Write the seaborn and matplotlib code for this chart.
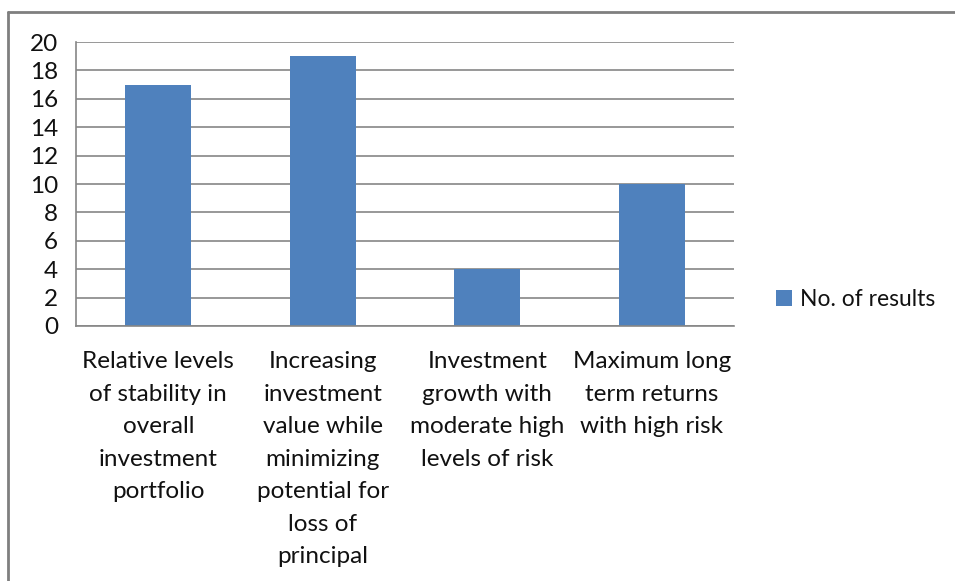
import matplotlib
matplotlib.use("Agg")
import matplotlib.pyplot as plt
import seaborn as sns
import pandas as pd
from matplotlib.lines import Line2D

categories = [
    "Relative levels\nof stability in\noverall\ninvestment\nportfolio",
    "Increasing\ninvestment\nvalue while\nminimizing\npotential for\nloss of\nprincipal",
    "Investment\ngrowth with\nmoderate high\nlevels of risk",
    "Maximum long\nterm returns\nwith high risk",
]
results = [17, 19, 4, 10]
y_ticks = list(range(0, 21, 2))

sns.set_style("white")
plt.rcParams["font.family"] = ["Lato", "DejaVu Sans"]

plot_data = pd.DataFrame({"Category": categories, "No. of results": results})

fig = plt.figure(figsize=(9.55, 5.81), dpi=100)
ax = fig.add_axes([0.0796, 0.4389, 0.6890, 0.4888])

sns.barplot(data=plot_data, x="Category", y="No. of results", color="#4F81BD",
            width=0.4, label="No. of results", ax=ax, saturation=1,
            linewidth=0)

grid_col = "#868686"
txt_col = "#111111"
fs = 17.5
ax.set_ylim(0, 20)
ax.set_xlim(-0.5, 3.5)
ax.set_yticks(y_ticks)
ax.yaxis.grid(True, color=grid_col, linewidth=1.2)
ax.set_axisbelow(True)
for side in ["top", "right"]:
    ax.spines[side].set_visible(False)
for side in ["left", "bottom"]:
    ax.spines[side].set_color(grid_col)
    ax.spines[side].set_linewidth(1.2)

ax.tick_params(axis="y", length=7, color=grid_col, width=1.2, labelsize=fs,
               labelcolor=txt_col, pad=6)
ax.tick_params(axis="x", which="major", length=0, labelsize=fs,
               labelcolor=txt_col, pad=18)
ax.set_xticks([-0.5, 0.5, 1.5, 2.5, 3.5], minor=True)
ax.tick_params(axis="x", which="minor", length=7, color=grid_col, width=1.2,
               direction="out")
for lbl in ax.get_xticklabels():
    lbl.set_linespacing(1.68)
ax.set_xlabel("")
ax.set_ylabel("")

ax.legend(loc="center left", bbox_to_anchor=(0.8126, 0.485),
          bbox_transform=fig.transFigure, frameon=False, fontsize=16.5,
          borderpad=0, borderaxespad=0,
          handlelength=0.7, handleheight=0.7, handletextpad=0.35,
          labelcolor=txt_col)

# chart border (top and left edge visible)
fig.add_artist(Line2D([0.0084, 1.0], [0.979, 0.979], color="#7F7F7F",
                      linewidth=2, transform=fig.transFigure))
fig.add_artist(Line2D([0.0084, 0.0084], [0.0, 0.979], color="#7F7F7F",
                      linewidth=2, transform=fig.transFigure))

fig.savefig("out.png", dpi=100)
